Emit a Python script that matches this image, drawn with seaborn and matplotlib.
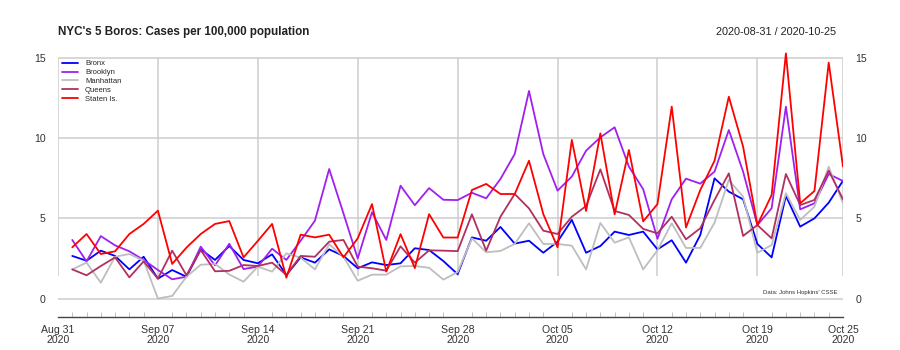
import numpy as np
import pandas as pd
import matplotlib
matplotlib.use("Agg")
import matplotlib.pyplot as plt
import matplotlib.dates as mdates
import seaborn as sns

# ---- data ----
dates = pd.date_range("2020-08-31", "2020-10-25", freq="D")
nan = float("nan")
bronx = [nan, 2.66, 2.36, 2.99, 2.66, 1.82, 2.61, 1.24, 1.78, 1.36, 3.07, 2.41, 3.28, 2.41, 2.2,
         2.76, 1.47, 2.57, 2.24, 3.07, 2.66, 1.89, 2.26, 2.09, 2.2, 3.14, 3.03, 2.34, 1.52,
         3.82, 3.61, 4.47, 3.43, 3.61, 2.86, 3.55, 4.91, 2.86, 3.28, 4.18, 3.97, 4.18, 3.07,
         3.64, 2.24, 3.97, 7.51, 6.68, 6.2, 3.41, 2.57, 6.41, 4.49, 5.01, 5.99, 7.36]
brooklyn = [nan, 3.66, 2.32, 3.9, 3.32, 2.95, 2.41, 1.78, 1.2, 1.36, 3.24, 2.07, 3.42, 1.84, 1.99,
            3.11, 2.41, 3.61, 4.86, 8.09, 5.32, 2.5, 5.39, 3.66, 7.05, 5.83, 6.9, 6.17, 6.15,
            6.61, 6.26, 7.47, 9.03, 12.97, 9.03, 6.74, 7.62, 9.24, 10.07, 10.7, 8.24, 6.83, 3.73,
            6.2, 7.49, 7.18, 7.93, 10.53, 7.93, 4.59, 5.64, 11.99, 5.57, 5.95, 7.78, 7.34]
manhattan = [nan, 1.82, 2.24, 0.99, 2.61, 2.78, 2.36, 0.0, 0.16, 1.36, 2.11, 2.16, 1.5, 1.05, 1.99,
             1.68, 2.82, 2.55, 1.82, 3.39, 2.61, 1.11, 1.49, 1.49, 2.01, 2.03, 1.92, 1.18, 1.65,
             3.76, 2.89, 2.97, 3.41, 4.7, 3.41, 3.41, 3.3, 1.82, 4.72, 3.49, 3.82, 1.82, 3.01,
             4.7, 3.16, 3.16, 4.74, 7.41, 6.36, 2.86, 3.34, 6.58, 4.91, 5.74, 8.24, 5.95]
queens = [nan, 1.82, 1.45, 2.03, 2.57, 1.32, 2.32, 1.24, 2.99, 1.45, 3.03, 1.7, 1.73, 2.09, 2.03,
          2.24, 1.47, 2.66, 2.61, 3.55, 3.66, 1.99, 1.89, 1.74, 3.26, 2.24, 3.01, 2.99, 2.96,
          5.26, 2.99, 5.11, 6.53, 5.63, 4.24, 4.03, 5.11, 5.78, 8.07, 5.47, 5.22, 4.35, 4.07,
          5.11, 3.7, 4.39, 6.16, 7.82, 3.91, 4.59, 3.76, 7.78, 5.84, 6.16, 7.99, 6.2]
staten = [nan, 3.2, 4.03, 2.78, 2.95, 4.03, 4.66, 5.49, 2.16, 3.18, 4.03, 4.66, 4.84, 2.57, 3.6,
          4.66, 1.3, 3.99, 3.82, 3.99, 2.57, 3.76, 5.9, 1.68, 4.02, 1.9, 5.27, 3.81, 3.81,
          6.78, 7.16, 6.53, 6.53, 8.61, 5.28, 3.2, 9.91, 5.47, 10.32, 5.26, 9.28, 4.82, 5.9,
          11.99, 4.44, 6.78, 8.61, 12.61, 9.49, 4.59, 6.47, 15.32, 5.95, 6.72, 14.74, 8.24]

boros = ["Bronx", "Brooklyn", "Manhattan", "Queens", "Staten Is."]
colors = ["#0000FF", "#A020F0", "#BEBEBE", "#B03060", "#FF0000"]
yticks = [0, 5, 10, 15]
title = "NYC's 5 Boros: Cases per 100,000 population"
range_label = "2020-08-31 / 2020-10-25"
source = "Data: Johns Hopkins' CSSE"

df = pd.DataFrame({"date": dates, "Bronx": bronx, "Brooklyn": brooklyn,
                   "Manhattan": manhattan, "Queens": queens, "Staten Is.": staten})
long = df.melt(id_vars="date", var_name="boro", value_name="cases")

# ---- figure ----
sns.set_style("white")
plt.rcParams["font.family"] = ["Liberation Sans", "DejaVu Sans"]

fig = plt.figure(figsize=(9, 3.5), dpi=100)
ax = fig.add_axes([58 / 900, 33 / 350, 785 / 900, 267 / 350])

grid_col = "#CDCDCD"
ax.set_ylim(-1.156, 15.53)
ax.set_yticks(yticks)
ax.yaxis.grid(True, color=grid_col, linewidth=1.1, zorder=0)
ax.set_axisbelow(True)

major = list(pd.date_range("2020-08-31", "2020-10-19", freq="7D")) + [dates[-1]]
ax.vlines(major, 1.4, 15, color=grid_col, linewidth=1.1, zorder=0)

sns.lineplot(data=long, x="date", y="cases", hue="boro", hue_order=boros,
             palette=dict(zip(boros, colors)), linewidth=1.3, ax=ax, zorder=3)
ax.set_xlim(dates[0], dates[-1])

for s in ["left", "right", "top"]:
    ax.spines[s].set_visible(False)
ax.spines["bottom"].set_color("#444444")
ax.spines["bottom"].set_linewidth(1.0)

ax.set_xticks(major)
ax.set_xticks(list(dates), minor=True)
ax.xaxis.set_major_formatter(mdates.DateFormatter("%b %d\n%Y"))
ax.tick_params(axis="x", which="major", direction="out", length=4, width=1,
               color="#444444", labelsize=7.6, labelcolor="#333333", pad=1.5)
ax.tick_params(axis="x", which="minor", direction="in", length=3.5, width=0.7,
               color="#C4C4C4", bottom=True)
ax.tick_params(axis="y", length=0, labelsize=7.6, labelcolor="#333333",
               labelleft=True, labelright=True, pad=9)
for lbl in ax.get_xticklabels():
    lbl.set_linespacing(1.1)
ax.set_xlabel("")
ax.set_ylabel("")

ax.legend(loc="upper left", bbox_to_anchor=(4 / 785, 1 - 10 / 267), frameon=False,
          fontsize=5.5, handlelength=2.1, handletextpad=0.9, labelspacing=0.2,
          borderpad=0, borderaxespad=0)

ax.annotate(source, xy=(0.9936, 0.4), xycoords=("axes fraction", "data"),
            ha="right", va="center", fontsize=4.3, color="#333333")

fig.text(58 / 900, 1 - 32 / 350, title, ha="left", va="center",
         fontsize=8.4, fontweight="bold", color="#222222")
fig.text(836 / 900, 1 - 32 / 350, range_label, ha="right", va="center",
         fontsize=7.8, color="#222222")

fig.savefig("out.png", dpi=100)
